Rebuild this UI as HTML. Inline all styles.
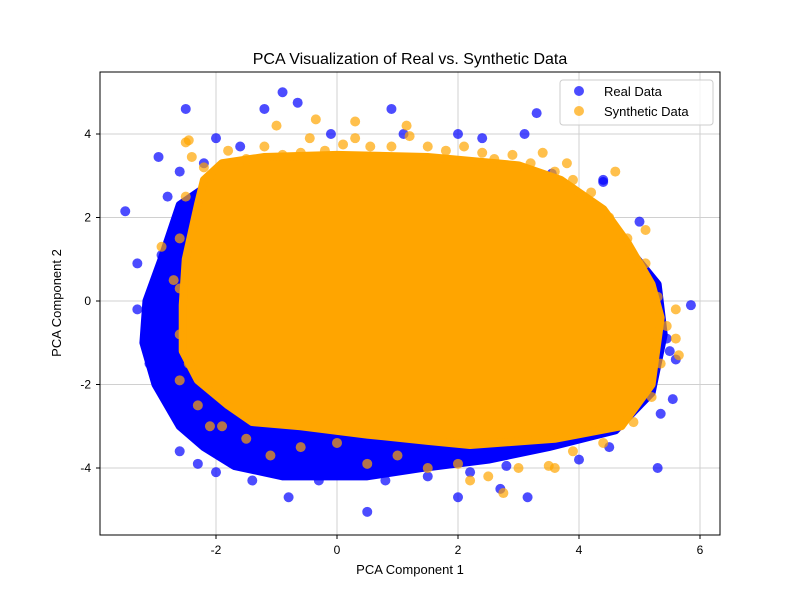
<!DOCTYPE html>
<html><head><meta charset="utf-8"><style>
body{margin:0;background:#fff;font-family:"Liberation Sans","DejaVu Sans",sans-serif}
</style></head><body>
<svg width="800" height="600" xmlns="http://www.w3.org/2000/svg">
<rect width="800" height="600" fill="#fff"/>
<text x="410" y="64" text-anchor="middle" font-size="16">PCA Visualization of Real vs. Synthetic Data</text>
<g id="grid"></g>
<g id="plot"></g>
<rect x="100" y="72" width="620" height="463" fill="none" stroke="#000" stroke-width="1"/>
<g id="ticks"></g>
<text x="410" y="574" text-anchor="middle" font-size="13">PCA Component 1</text>
<text x="61" y="303" text-anchor="middle" font-size="13" transform="rotate(-90 61 303)">PCA Component 2</text>
<g>
<rect x="560" y="80" width="153" height="45" rx="3" fill="#fff" fill-opacity="0.8" stroke="#ccc"/>
<circle cx="579" cy="91" r="5" fill="#0000ff" fill-opacity="0.7"/>
<text x="604" y="96" font-size="13">Real Data</text>
<circle cx="579" cy="111" r="5" fill="#ffa500" fill-opacity="0.7"/>
<text x="604" y="116" font-size="13">Synthetic Data</text>
</g>
</svg>
<script>
const xTicks=[-2,0,2,4,6];
const yTicks=[-4,-2,0,2,4];
const realHullX=[-2.6,-2.9,-3.15,-3.2,-3.0,-2.6,-2.2,-1.7,-0.9,0.5,1.4,2.5,3.5,4.6,5.2,5.4,5.3,4.4,3,0,-2];
const realHullY=[2.3,1.0,0,-1,-2,-3.0,-3.5,-3.95,-4.2,-4.2,-4.0,-3.8,-3.5,-3.1,-2.2,-0.8,0.4,2.0,3.0,3.1,2.9];
const synHullX=[-2.3,-2.5,-2.55,-2.55,-2.3,-1.8,-1.4,-0.6,0.5,1.5,2.2,3.6,4.7,5.2,5.35,5.2,4.8,4.4,3.7,3.0,1.5,0,-1.2,-1.9,-2.2];
const synHullY=[2.3,1.0,-0.1,-1.2,-1.9,-2.5,-2.9,-3.0,-3.2,-3.35,-3.45,-3.3,-3.0,-2.0,-0.4,0.4,1.4,2.2,2.9,3.25,3.45,3.5,3.45,3.3,2.9];
const realOutX=[-3.5,-2.95,-2.5,-0.9,-0.65,-1.2,0.9,3.3,5.85,5.55,5.3,0.5,-0.8,2,3.15,-3.3,-3.1,5.5,4.4,2.7,-2.0,-1.6,-2.2,-2.6,-2.8,-2.9,-3.3,-3.05,-2.6,-2.3,-2.0,-1.4,-0.3,0.8,1.5,2.2,2.8,4.0,4.5,5.35,5.6,5.45,5.0,4.4,3.55,1.1,2.4,3.1,2.0,-0.1];
const realOutY=[2.15,3.45,4.6,5.0,4.75,4.6,4.6,4.5,-0.1,-2.35,-4.0,-5.05,-4.7,-4.7,-4.7,0.9,-1.5,-1.2,2.85,-4.5,3.9,3.7,3.3,3.1,2.5,1.1,-0.2,-1.2,-3.6,-3.9,-4.1,-4.3,-4.3,-4.3,-4.2,-4.1,-3.95,-3.8,-3.5,-2.7,-1.4,-0.9,1.9,2.9,3.05,4.0,3.9,4.0,4.0,4.0];
const synOutX=[-2.9,5.6,5.65,5.6,-1,-0.35,0.3,1.15,2.75,2.2,3.6,-2.5,-2.45,4.6,5.1,-2.1,-2.6,3.8,-2.45,-2.4,-2.2,-2.1,-1.8,-1.5,-1.2,-0.9,-0.6,-0.45,-0.2,0.1,0.3,0.55,0.9,1.2,1.5,1.8,2.1,2.4,2.6,2.9,3.2,3.4,3.6,3.9,4.2,4.5,4.8,5.1,5.3,5.45,5.35,5.2,4.9,4.4,3.9,3.5,3,2.5,2.0,1.5,1.0,0.5,0,-0.6,-1.1,-1.5,-1.9,-2.3,-2.6,-2.6,-2.7,-2.6,-2.5];
const synOutY=[1.3,-0.9,-1.3,-0.2,4.2,4.35,4.3,4.2,-4.6,-4.3,-4.0,3.8,-1.5,3.1,1.7,-3.0,0.3,3.3,3.85,3.45,3.2,3.0,3.6,3.4,3.7,3.5,3.55,3.9,3.6,3.75,3.9,3.7,3.7,3.95,3.7,3.6,3.7,3.55,3.4,3.5,3.3,3.55,3.1,2.9,2.6,2.0,1.5,0.9,0.1,-0.6,-1.5,-2.3,-2.9,-3.4,-3.6,-3.95,-4.0,-4.2,-3.9,-4.0,-3.7,-3.9,-3.4,-3.5,-3.7,-3.3,-3.0,-2.5,-1.9,-0.8,0.5,1.5,2.5];
const NS="http://www.w3.org/2000/svg";
const sx=v=>337+v*60.5, sy=v=>301-v*41.75;
const grid=document.getElementById('grid'),plot=document.getElementById('plot'),ticks=document.getElementById('ticks');
function mk(t,a,p){const e=document.createElementNS(NS,t);for(const k in a)e.setAttribute(k,a[k]);p.appendChild(e);return e;}
xTicks.forEach(v=>{const x=sx(v);
 const l=mk('line',{x1:x,x2:x,y1:72,y2:535,stroke:'#d0d0d0'},grid);
 
 
 mk('line',{x1:x,x2:x,y1:535,y2:539,stroke:'#000'},ticks);
 const t=mk('text',{x:x,y:554,'text-anchor':'middle','font-size':12},ticks);t.textContent=v;
 
 });
yTicks.forEach(v=>{const y=sy(v);
 const l=mk('line',{x1:100,x2:720,y1:y,y2:y,stroke:'#d0d0d0'},grid);
 
 
 mk('line',{x1:96,x2:100,y1:y,y2:y,stroke:'#000'},ticks);
 const t=mk('text',{x:91,y:y+4,'text-anchor':'end','font-size':12},ticks);t.textContent=v;
 
 });
function hull(xs,ys,c,name){const pts=xs.map((x,i)=>sx(x)+','+sy(ys[i])).join(' ');
 const p=mk('polygon',{points:pts,fill:c,stroke:c,'stroke-width':8,'stroke-linejoin':'round'},plot);
 
 }
function pts(xs,ys,c,name){xs.forEach((x,i)=>{const e=mk('circle',{cx:sx(x),cy:sy(ys[i]),r:5,fill:c,'fill-opacity':0.7},plot);
 
 });}
hull(realHullX,realHullY,'#0000ff','real-data-cloud');
pts(realOutX,realOutY,'#0000ff','real-data-point');
hull(synHullX,synHullY,'#ffa500','synthetic-data-cloud');
pts(synOutX,synOutY,'#ffa500','synthetic-data-point');
</script>
</body></html>
